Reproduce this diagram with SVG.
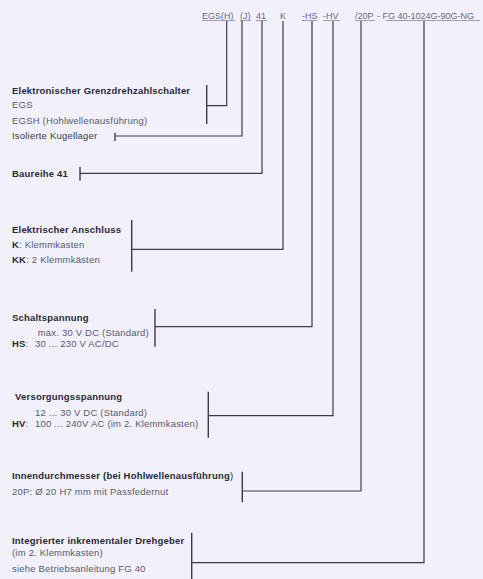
<svg xmlns="http://www.w3.org/2000/svg" width="483" height="579" viewBox="0 0 483 579">
<style>
text{font-family:"Liberation Sans",Arial,sans-serif;font-size:9.5px;letter-spacing:0.2px;fill:#5a5a66}
.b{font-weight:bold;fill:#2a2a36}
.code{font-size:9px;letter-spacing:0;fill:#6a6a7a}
.ul{stroke:#8a8aa0;stroke-width:0.8}
.c{fill:none;stroke:#3c3c48;stroke-width:1.2}
.br{stroke:#3c3c48;stroke-width:1.4}
</style>
<rect width="483" height="579" fill="#f2f1fb"/>
<g id="code">
<text class="code" x="202" y="18.5">EGS(H)</text>
<text class="code" x="240" y="18.5">(J)</text>
<text class="code" x="256" y="18.5">41</text>
<text class="code" x="280" y="18.5">K</text>
<text class="code" x="302" y="18.5">-HS</text>
<text class="code" x="323" y="18.5">-HV</text>
<text class="code" x="355" y="18.5">/20P</text>
<text class="code" x="377" y="18.5">- FG 40-1024G-90G-NG</text>
<line class="ul" x1="202" y1="20.5" x2="235" y2="20.5"/>
<line class="ul" x1="240" y1="20.5" x2="251" y2="20.5"/>
<line class="ul" x1="256" y1="20.5" x2="267" y2="20.5"/>
<line class="ul" x1="302" y1="20.5" x2="317" y2="20.5"/>
<line class="ul" x1="323" y1="20.5" x2="340" y2="20.5"/>
<line class="ul" x1="355" y1="20.5" x2="375" y2="20.5"/>
<line class="ul" x1="386" y1="20.5" x2="480" y2="20.5"/>
</g>
<g id="connectors">
<path class="c" d="M226.7,21V105.7H206.7"/>
<path class="c" d="M242,21V136H115"/>
<path class="c" d="M262,21V173.3H80"/>
<path class="c" d="M283,21V249.3H131.7"/>
<path class="c" d="M312,21V326.7H155"/>
<path class="c" d="M333,21V415.7H208.3"/>
<path class="c" d="M361,21V491H242.3"/>
<path class="c" d="M424,21V562.7H191.7"/>
</g>
<g id="grenzdrehzahlschalter">
<text class="b" x="12" y="94.3">Elektronischer Grenzdrehzahlschalter</text>
<text x="12" y="107.7">EGS</text>
<text x="12" y="124">EGSH (Hohlwellenausführung)</text>
<line class="br" x1="206.7" y1="85" x2="206.7" y2="124"/>
</g>
<g id="kugellager">
<text x="12" y="139" style="fill:#3a3a46">Isolierte Kugellager</text>
<line class="br" x1="115" y1="132.7" x2="115" y2="141"/>
</g>
<g id="baureihe">
<text class="b" x="12" y="176.7">Baureihe 41</text>
<line class="br" x1="80" y1="166.7" x2="80" y2="180.7"/>
</g>
<g id="anschluss">
<text class="b" x="12" y="233.3">Elektrischer Anschluss</text>
<text x="12" y="248.3"><tspan class="b">K</tspan>: Klemmkasten</text>
<text x="12" y="262.7"><tspan class="b">KK</tspan>: 2 Klemmkästen</text>
<line class="br" x1="131.7" y1="220" x2="131.7" y2="271.7"/>
</g>
<g id="schaltspannung">
<text class="b" x="12" y="320.7">Schaltspannung</text>
<text x="37.7" y="335.7">max. 30 V DC (Standard)</text>
<text x="12" y="347"><tspan class="b">HS</tspan>:</text>
<text x="35" y="347">30 ... 230 V AC/DC</text>
<line class="br" x1="155" y1="309" x2="155" y2="346.7"/>
</g>
<g id="versorgungsspannung">
<text class="b" x="15" y="400">Versorgungsspannung</text>
<text x="35" y="416.3">12 ... 30 V DC (Standard)</text>
<text x="12" y="426.5"><tspan class="b">HV</tspan>:</text>
<text x="35" y="426.5">100 ... 240V AC (im 2. Klemmkasten)</text>
<line class="br" x1="208.3" y1="391.7" x2="208.3" y2="437.7"/>
</g>
<g id="innendurchmesser">
<text class="b" x="12" y="478.5">Innendurchmesser (bei Hohlwellenausführung<tspan style="font-weight:normal">)</tspan></text>
<text x="12" y="495">20P: Ø 20 H7 mm mit Passfedernut</text>
<line class="br" x1="242.3" y1="471.7" x2="242.3" y2="502.3"/>
</g>
<g id="drehgeber">
<text class="b" x="12" y="544">Integrierter inkrementaler Drehgeber</text>
<text x="12" y="555.5">(im 2. Klemmkasten)</text>
<text x="12" y="571.7">siehe Betriebsanleitung FG 40</text>
<line class="br" x1="191.7" y1="532.7" x2="191.7" y2="579"/>
</g>
</svg>
